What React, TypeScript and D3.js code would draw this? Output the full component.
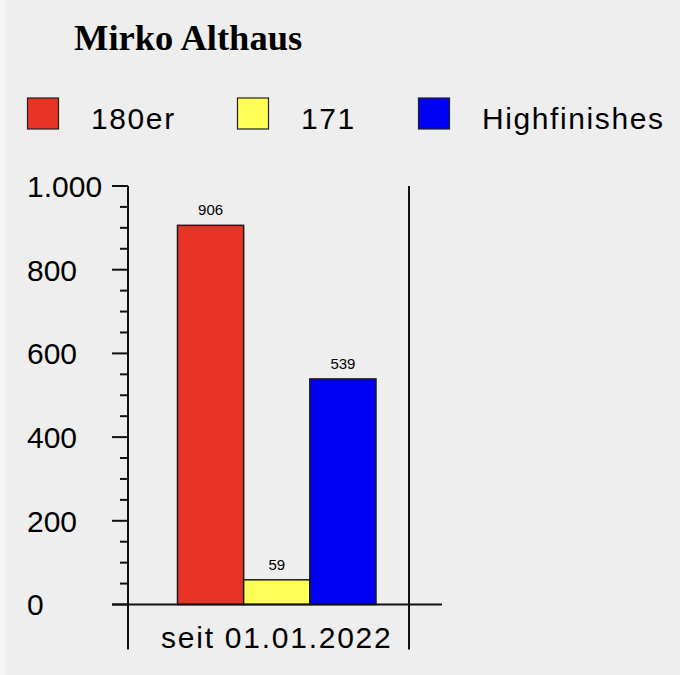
import React from "react";
import * as d3 from "d3";

const title = "Mirko Althaus";
const categories = ["seit 01.01.2022"];
const seriesNames = ["180er", "171", "Highfinishes"];
const seriesValues = [906, 59, 539];
const seriesColors = ["#e83424", "#ffff55", "#0000f4"];
const majorTicks = [0, 200, 400, 600, 800, 1000];
const minorTicks = [50, 100, 150, 250, 300, 350, 450, 500, 550, 650, 700, 750, 850, 900, 950];

const W = 680;
const H = 675;
const sans = "'Liberation Sans', Arial, Helvetica, sans-serif";

export default function App() {
  const de = d3.formatLocale({ decimal: ",", thousands: ".", grouping: [3], currency: ["", "€"] });
  const fmt = de.format(",");

  const y = d3.scaleLinear().domain([0, 1000]).range([604.5, 186]);
  const xOuter = d3
    .scaleBand<string>()
    .domain(categories)
    .range([128, 409])
    .paddingInner(0)
    .paddingOuter(0.2078)
    .align(0.6);
  const xInner = d3
    .scaleBand<string>()
    .domain(seriesNames)
    .range([0, xOuter.bandwidth()])
    .padding(0);

  const axisX = 128;
  const rightX = 409;
  const baseY = y(0);

  const legendX = [27, 237, 418];

  return (
    <svg
      width={W}
      height={H}
      style={{ position: "absolute", left: 0, top: 0, display: "block" }}
    >
      <rect x={0} y={0} width={W} height={H} fill="#eeeeee" />
      <rect x={0} y={0} width={6} height={H} fill="#f4f4f4" />

      <text
        x={74}
        y={49.5}
        fontFamily="'Liberation Serif', 'Times New Roman', serif"
        fontWeight="bold"
        fontSize={36.5}
        fill="#000"
      >
        {title}
      </text>

      {seriesNames.map((s, i) => (
        <g key={s}>
          <rect
            x={legendX[i] + 0.5}
            y={98}
            width={31}
            height={31}
            fill={seriesColors[i]}
            stroke="#222"
            strokeWidth={1.2}
          />
          <text
            x={legendX[i] + 64}
            y={128.5}
            fontFamily={sans}
            fontSize={30}
            letterSpacing={1.6}
            fill="#000"
          >
            {s}
          </text>
        </g>
      ))}

      {/* bars */}
      {categories.map((c) => (
        <g key={c} transform={`translate(${xOuter(c)},0)`}>
          {seriesNames.map((s, i) => (
            <g key={s}>
              <rect
                x={xInner(s)!}
                y={y(seriesValues[i])}
                width={xInner.bandwidth()}
                height={baseY - y(seriesValues[i])}
                fill={seriesColors[i]}
                stroke="#1a1a1a"
                strokeWidth={1.5}
              />
              <text
                x={xInner(s)! + xInner.bandwidth() / 2}
                y={y(seriesValues[i]) - 10}
                textAnchor="middle"
                fontFamily={sans}
                fontSize={15}
                fill="#000"
              >
                {fmt(seriesValues[i])}
              </text>
            </g>
          ))}
          <text
            x={xOuter.bandwidth() / 2}
            y={648}
            textAnchor="middle"
            fontFamily={sans}
            fontSize={30}
            letterSpacing={1.75}
            fill="#000"
          >
            {c}
          </text>
        </g>
      ))}

      {/* axes */}
      <line x1={axisX} x2={axisX} y1={186} y2={649.5} stroke="#111" strokeWidth={2} />
      <line x1={rightX} x2={rightX} y1={186} y2={649.5} stroke="#111" strokeWidth={2} />
      <line x1={112} x2={442} y1={baseY} y2={baseY} stroke="#111" strokeWidth={2} />

      {majorTicks.map((t) => (
        <g key={t}>
          <line x1={112} x2={axisX} y1={y(t)} y2={y(t)} stroke="#111" strokeWidth={2} />
          <text
            x={27}
            y={y(t)}
            dy="0.36em"
            fontFamily={sans}
            fontSize={30}
            fill="#000"
          >
            {fmt(t)}
          </text>
        </g>
      ))}
      {minorTicks.map((t) => (
        <line key={t} x1={120} x2={axisX} y1={y(t)} y2={y(t)} stroke="#111" strokeWidth={2} />
      ))}
    </svg>
  );
}
